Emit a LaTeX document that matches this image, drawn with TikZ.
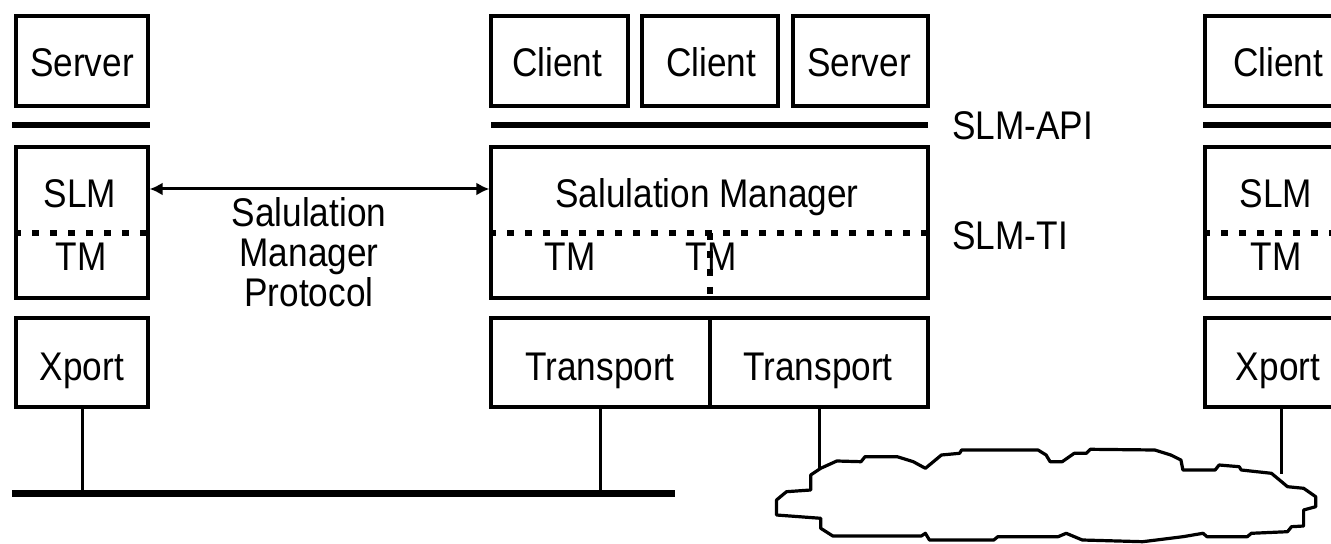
\documentclass[tikz,border=0pt]{standalone}
\usepackage{fontspec}
\newfontfamily\dfont[FakeStretch=0.88]{Liberation Sans}
\usetikzlibrary{arrows.meta,calc}
\tikzset{
  lbl/.style={font=\dfont\fontsize{20}{24}\selectfont, inner sep=0pt, text height=14.3pt, text depth=0pt},
  box/.style={draw, line width=1.6pt, inner sep=0pt},
  bar/.style={line width=2.75pt},
  bus/.style={line width=3.5pt},
  dotline/.style={line width=3pt, dash pattern=on 3.5pt off 5.5pt},
  wire/.style={line width=1.5pt},
  proto/.style={line width=1.5pt, {Latex[length=6.5pt,width=6.5pt]}-{Latex[length=6.5pt,width=6.5pt]}},
  cloudline/.style={line width=1.6pt, line join=round}
}
\begin{document}
\begin{tikzpicture}[x=0.5pt,y=-0.5pt]
\useasboundingbox (0,0) rectangle (1331,544);
\fill[white] (0,0) rectangle (1331,544);
\clip (0,0) rectangle (1331,544);

% ---------- left column ----------
\node[box, minimum width=66pt, minimum height=45pt] (serverL) at (82,61) {};
\node[lbl] (serverLt) at (82,62.5) {Server};
\draw[bar] (12,125) -- (150,125);
\node[box, minimum width=66pt, minimum height=75.5pt] (slmL) at (82,222.5) {};
\draw[dotline] ([yshift=-5.25pt]slmL.west) -- ([yshift=-5.25pt]slmL.east);
\node[lbl] (slmLt) at (80,193.5) {SLM};
\node[lbl] (tmLt) at (81,256.5) {TM};
\node[box, minimum width=66pt, minimum height=44.5pt] (xportL) at (82,362.5) {};
\node[lbl] (xportLt) at (82,366) {Xport};

% ---------- middle column ----------
\node[box, minimum width=68.5pt, minimum height=45pt] (client1) at (559.5,61) {};
\node[lbl] (client1t) at (557,62.5) {Client};
\node[box, minimum width=68pt, minimum height=45pt] (client2) at (710,61) {};
\node[lbl] (client2t) at (711,62.5) {Client};
\node[box, minimum width=67.5pt, minimum height=45pt] (serverM) at (860.5,61) {};
\node[lbl] (serverMt) at (859,62.5) {Server};
\draw[bar] (491,125) -- (928,125);
\node[lbl, anchor=west] (api) at (952,125) {SLM-API};

\node[box, minimum width=218.5pt, minimum height=75.5pt] (smBox) at (709.5,222.5) {};
\node[lbl] (smt) at (707,193.5) {Salulation Manager};
\draw[dotline] ([yshift=-5.25pt]smBox.west) -- ([yshift=-5.25pt]smBox.east);
\node[lbl] (tm1) at (570,256.5) {TM};
\node[lbl] (tm2) at (711,256.5) {TM};
\draw[dotline] ([yshift=-5.25pt]smBox.center) -- (smBox.south);
\node[lbl, anchor=west] (ti) at (952,235) {SLM-TI};

\node[box, minimum width=109.5pt, minimum height=44.5pt] (transL) at (600.5,362.5) {};
\node[lbl] (transLt) at (600,366) {Transport};
\node[box, minimum width=109pt, minimum height=44.5pt] (transR) at (819,362.5) {};
\node[lbl] (transRt) at (818,366) {Transport};

% ---------- right column ----------
\node[box, minimum width=73pt, minimum height=45pt] (clientR) at (1278,61) {};
\node[lbl] (clientRt) at (1278,62.5) {Client};
\draw[bar] (1203,125) -- (1340,125);
\node[box, minimum width=73pt, minimum height=75.5pt] (slmR) at (1278,222.5) {};
\draw[dotline] ([yshift=-5.25pt]slmR.west) -- ([yshift=-5.25pt]slmR.east);
\node[lbl] (slmRt) at (1276,193.5) {SLM};
\node[lbl] (tmRt) at (1276,256.5) {TM};
\node[box, minimum width=73pt, minimum height=44.5pt] (xportR) at (1278,362.5) {};
\node[lbl] (xportRt) at (1278,366) {Xport};

% ---------- protocol ----------
\draw[proto] ([yshift=16.75pt]slmL.east) -- ([yshift=16.75pt]smBox.west);
\node[lbl] (proto1) at (309,212) {Salulation};
\node[lbl] (proto2) at (309,252) {Manager};
\node[lbl] (proto3) at (309,292) {Protocol};

% ---------- bus and cloud ----------
\coordinate (busL) at (12,493);
\coordinate (busR) at (675,493);
\draw[bus] (busL) -- (busR);
\draw[wire] (xportL.south) -- (xportL.south |- busL);
\draw[wire] (transL.south) -- (transL.south |- busL);

\coordinate (cloudA) at (819,468);
\coordinate (cloudB) at (1281,474);
\draw[cloudline] (820.7,468.3) -- (810.7,475) -- (810.7,490) -- (786.5,491.7) -- (776.5,500) -- (776.5,515)
  -- (820.7,518.3) -- (820.7,528.3) -- (832.8,536) -- (921.3,536) -- (925.4,533.3) -- (929.4,540)
  -- (993.8,540) -- (997.8,536.7) -- (1058.1,536.7) -- (1066.2,533.3) -- (1082.3,540) -- (1142.7,541.7)
  -- (1182.9,536.7) -- (1203,533.3) -- (1207,536.7) -- (1247.3,536.7) -- (1251.3,533.3) -- (1287.5,531.7)
  -- (1291.5,526.7) -- (1303.6,526) -- (1303.6,510) -- (1315.7,506.7) -- (1315.7,496.7) -- (1303.6,488.3)
  -- (1287.5,486.7) -- (1279.5,480) -- (1271.4,473.3) -- (1241.2,470) -- (1239.2,466.7) -- (1219.1,465)
  -- (1215.1,470) -- (1182.9,470) -- (1180.9,460) -- (1170.8,455) -- (1154.7,450) -- (1090.3,449.3)
  -- (1086.3,453.3) -- (1074.2,453.3) -- (1062.2,461.7) -- (1050.1,461.7) -- (1046.1,455) -- (1038,450)
  -- (961.6,450) -- (959.6,453.3) -- (941.4,455) -- (935.4,460) -- (925.4,468.3) -- (919.3,465)
  -- (913.3,461.7) -- (897.2,456.7) -- (865,456.7) -- (861,461.7) -- (836.8,461) -- cycle;
\draw[wire] (transR.south) -- (cloudA);
\draw[wire] ([xshift=1.5pt]xportR.south) -- (cloudB);
\end{tikzpicture}
\end{document}
